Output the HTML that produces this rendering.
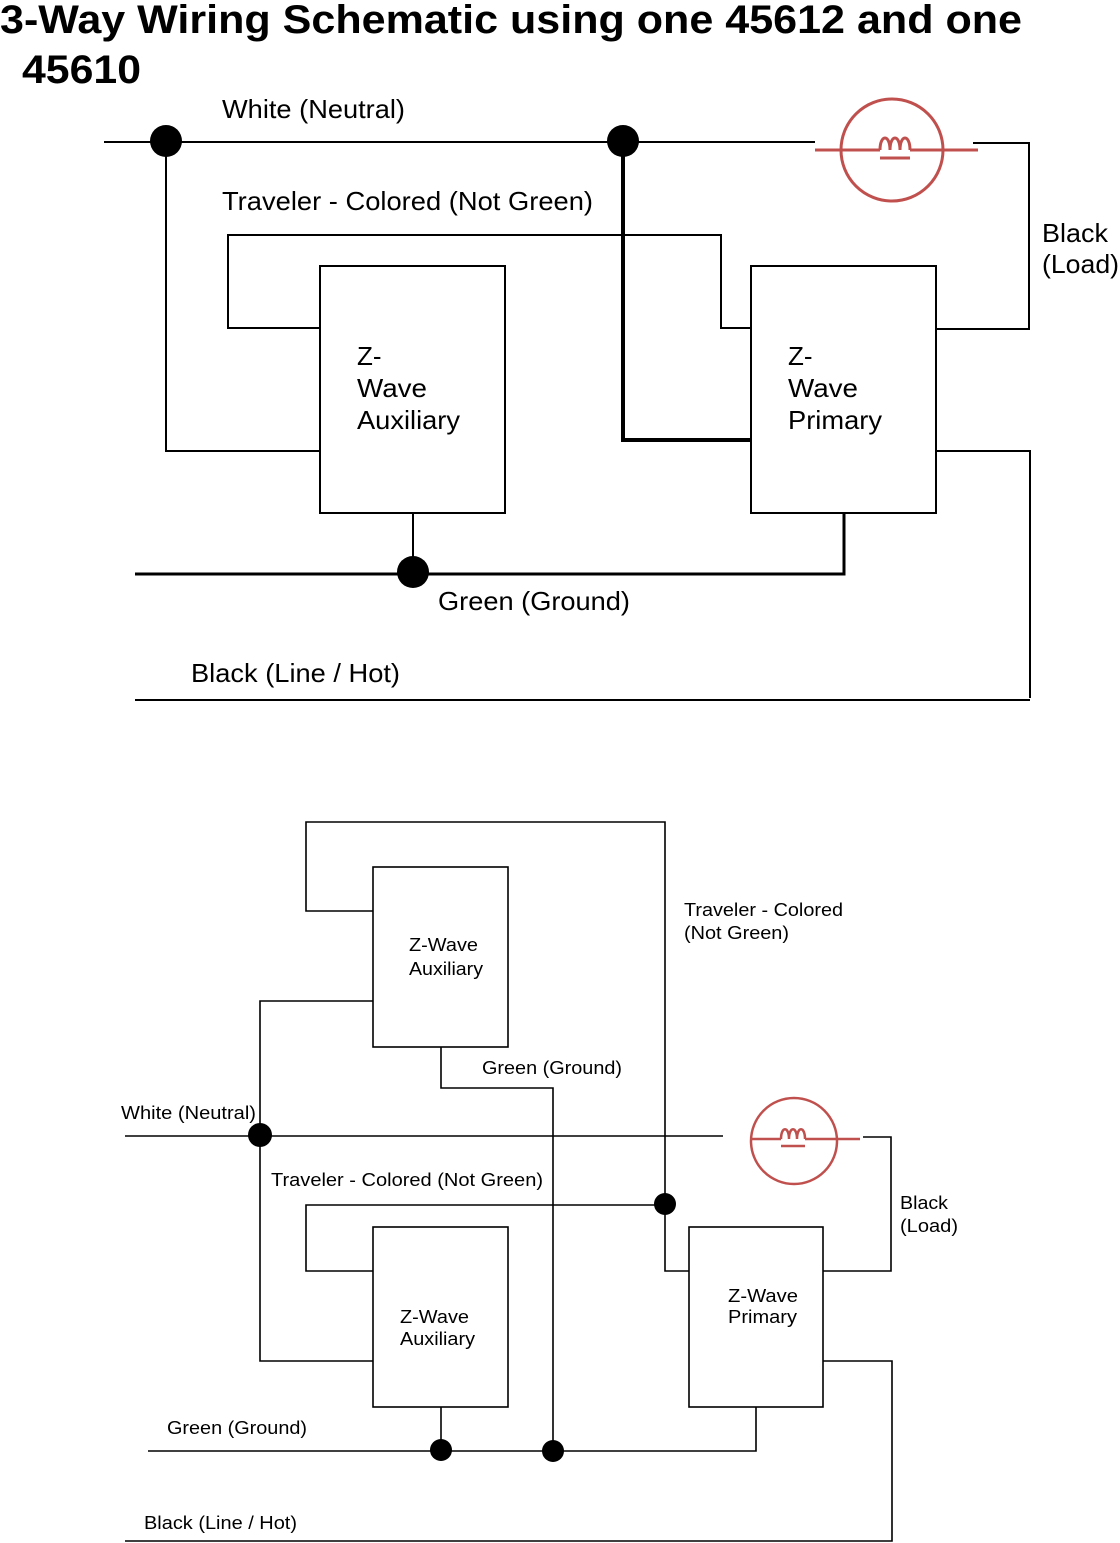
<!DOCTYPE html>
<html><head><meta charset="utf-8"><style>
html,body{margin:0;padding:0;background:#fff;}
svg{display:block;}
text{font-family:"Liberation Sans",Arial,sans-serif;fill:#000;}
</style></head><body>
<svg width="1120" height="1543" viewBox="0 0 1120 1543" xmlns="http://www.w3.org/2000/svg">
<text x="0" y="33" font-size="40" font-weight="bold" textLength="1022" lengthAdjust="spacingAndGlyphs">3-Way Wiring Schematic using one 45612 and one</text>
<text x="22" y="83" font-size="40" font-weight="bold" textLength="119" lengthAdjust="spacingAndGlyphs">45610</text>

<g stroke="#000" fill="none" stroke-width="2">
<line x1="104" y1="142" x2="815" y2="142"/>
<polyline points="973,143 1029,143 1029,329 936,329"/>
<polyline points="320,328 228,328 228,235 721,235 721,328 751,328"/>
<rect x="320" y="266" width="185" height="247"/>
<rect x="751" y="266" width="185" height="247"/>
<polyline points="166,141 166,451 320,451"/>
<polyline points="936,451 1030,451 1030,698"/>
<line x1="135" y1="700" x2="1030" y2="700"/>
<line x1="413" y1="513" x2="413" y2="572"/>
<polyline points="135,574 844,574 844,513" stroke-width="3"/>
<polyline points="623,141 623,440 751,440" stroke-width="4"/>
</g>
<circle cx="166" cy="141" r="16"/>
<circle cx="623" cy="141" r="16"/>
<circle cx="413" cy="572" r="16"/>
<g stroke="#c0504d" fill="none" stroke-width="3">
<circle cx="892" cy="150" r="51"/>
<line x1="815" y1="150" x2="880" y2="150"/>
<line x1="910" y1="150" x2="978" y2="150"/>
<path d="M880,150 c0,-16 10,-16 10,0 c0,-16 10,-16 10,0 c0,-16 10,-16 10,0 M880,158 L910,158"/>
</g>
<g font-size="26" lengthAdjust="spacingAndGlyphs">
<text x="222" y="118" textLength="183" lengthAdjust="spacingAndGlyphs">White (Neutral)</text>
<text x="222" y="210" textLength="371" lengthAdjust="spacingAndGlyphs">Traveler - Colored (Not Green)</text>
<text x="357" y="365">Z-</text><text x="357" y="397" textLength="70" lengthAdjust="spacingAndGlyphs">Wave</text><text x="357" y="429" textLength="103" lengthAdjust="spacingAndGlyphs">Auxiliary</text>
<text x="788" y="365">Z-</text><text x="788" y="397" textLength="70" lengthAdjust="spacingAndGlyphs">Wave</text><text x="788" y="429" textLength="94" lengthAdjust="spacingAndGlyphs">Primary</text>
<text x="1042" y="242" textLength="66" lengthAdjust="spacingAndGlyphs">Black</text><text x="1042" y="273" textLength="77" lengthAdjust="spacingAndGlyphs">(Load)</text>
<text x="438" y="610" textLength="192" lengthAdjust="spacingAndGlyphs">Green (Ground)</text>
<text x="191" y="682" textLength="209" lengthAdjust="spacingAndGlyphs">Black (Line / Hot)</text>
</g>

<g stroke="#000" fill="none" stroke-width="1.6">
<polyline points="373,911 306,911 306,822 665,822 665,1271 689,1271"/>
<rect x="373" y="867" width="135" height="180"/>
<polyline points="373,1001 260,1001 260,1361 373,1361"/>
<polyline points="441,1047 441,1088 553,1088 553,1451"/>
<line x1="125" y1="1136" x2="723" y2="1136"/>
<polyline points="863,1137 891,1137 891,1271 823,1271"/>
<polyline points="665,1205 306,1205 306,1271 373,1271"/>
<rect x="373" y="1227" width="135" height="180"/>
<rect x="689" y="1227" width="134" height="180"/>
<polyline points="823,1361 892,1361 892,1541 125,1541"/>
<polyline points="148,1451 756,1451 756,1407"/>
<line x1="441" y1="1407" x2="441" y2="1451"/>
</g>
<circle cx="260" cy="1135" r="12"/>
<circle cx="665" cy="1204" r="11"/>
<circle cx="441" cy="1450" r="11"/>
<circle cx="553" cy="1451" r="11"/>
<g stroke="#c0504d" fill="none" stroke-width="2.5">
<circle cx="794" cy="1141" r="43"/>
<line x1="750" y1="1139" x2="781" y2="1139"/>
<line x1="805" y1="1139" x2="860" y2="1139"/>
<path d="M781,1139 c0,-13 8,-13 8,0 c0,-13 8,-13 8,0 c0,-13 8,-13 8,0 M781,1146 L805,1146"/>
</g>
<g font-size="18">
<text x="409" y="951" textLength="69" lengthAdjust="spacingAndGlyphs">Z-Wave</text><text x="409" y="975" textLength="74" lengthAdjust="spacingAndGlyphs">Auxiliary</text>
<text x="684" y="916" textLength="159" lengthAdjust="spacingAndGlyphs">Traveler - Colored</text><text x="684" y="939" textLength="105" lengthAdjust="spacingAndGlyphs">(Not Green)</text>
<text x="482" y="1074" textLength="140" lengthAdjust="spacingAndGlyphs">Green (Ground)</text>
<text x="121" y="1119" textLength="135" lengthAdjust="spacingAndGlyphs">White (Neutral)</text>
<text x="271" y="1186" textLength="272" lengthAdjust="spacingAndGlyphs">Traveler - Colored (Not Green)</text>
<text x="900" y="1209" textLength="48" lengthAdjust="spacingAndGlyphs">Black</text><text x="900" y="1232" textLength="58" lengthAdjust="spacingAndGlyphs">(Load)</text>
<text x="400" y="1323" textLength="69" lengthAdjust="spacingAndGlyphs">Z-Wave</text><text x="400" y="1345" textLength="75" lengthAdjust="spacingAndGlyphs">Auxiliary</text>
<text x="728" y="1302" textLength="70" lengthAdjust="spacingAndGlyphs">Z-Wave</text><text x="728" y="1323" textLength="69" lengthAdjust="spacingAndGlyphs">Primary</text>
<text x="167" y="1434" textLength="140" lengthAdjust="spacingAndGlyphs">Green (Ground)</text>
<text x="144" y="1529" textLength="153" lengthAdjust="spacingAndGlyphs">Black (Line / Hot)</text>
</g>
</svg>
</body></html>
